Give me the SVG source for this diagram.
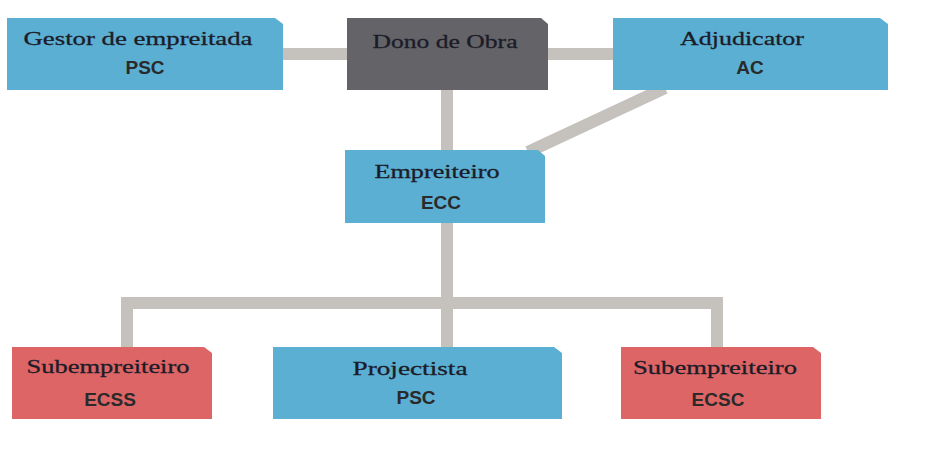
<svg xmlns="http://www.w3.org/2000/svg" width="928" height="465" viewBox="0 0 928 465">
  <style>
    .blue { fill: #5aafd3; }
    .red { fill: #de6566; }
    .dark { fill: #646468; }
    .link { stroke: #c5c1bd; stroke-width: 12; fill: none; }
    .t1 { font-family: "Liberation Serif", "DejaVu Serif", serif; font-size: 19px; fill: #1c1c28; text-anchor: middle; stroke: #1c1c28; stroke-width: 0.3; }
    .t2 { font-family: "Liberation Sans", "DejaVu Sans", sans-serif; font-size: 19px; font-weight: bold; fill: #2a2a2a; text-anchor: middle; }
  </style>
  <rect width="928" height="465" fill="#ffffff"/>

  <!-- connectors -->
  <g id="connectors">
    <line class="link" x1="283" y1="54" x2="613" y2="54"/>
    <line class="link" x1="447" y1="90" x2="447" y2="150"/>
    <line class="link" x1="665" y1="88" x2="528" y2="152"/>
    <line class="link" x1="447" y1="223" x2="447" y2="347"/>
    <polyline class="link" points="127,347 127,303 717,303 717,347"/>
  </g>

  <g id="gestor">
    <path class="blue" d="M7 18 H275 L283 24 V90 H7 Z"/>
    <text class="t1" x="138" y="45" textLength="229" lengthAdjust="spacingAndGlyphs">Gestor de empreitada</text>
    <text class="t2" x="145" y="74">PSC</text>
  </g>

  <g id="dono">
    <path class="dark" d="M347 18 H541 L548 24 V90 H347 Z"/>
    <text class="t1" x="445" y="48" textLength="145" lengthAdjust="spacingAndGlyphs">Dono de Obra</text>
  </g>

  <g id="adjudicator">
    <path class="blue" d="M613 18 H880 L888 24 V90 H613 Z"/>
    <text class="t1" x="742" y="45" textLength="124" lengthAdjust="spacingAndGlyphs">Adjudicator</text>
    <text class="t2" x="750" y="74">AC</text>
  </g>

  <g id="empreiteiro">
    <path class="blue" d="M345 150 H538 L545 156 V223 H345 Z"/>
    <text class="t1" x="437" y="178" textLength="125" lengthAdjust="spacingAndGlyphs">Empreiteiro</text>
    <text class="t2" x="441" y="209">ECC</text>
  </g>

  <g id="ecss">
    <path class="red" d="M12 347 H204 L212 353 V419 H12 Z"/>
    <text class="t1" x="108" y="373" textLength="163" lengthAdjust="spacingAndGlyphs">Subempreiteiro</text>
    <text class="t2" x="110" y="406">ECSS</text>
  </g>

  <g id="projectista">
    <path class="blue" d="M273 347 H554 L562 353 V419 H273 Z"/>
    <text class="t1" x="410" y="375" textLength="115" lengthAdjust="spacingAndGlyphs">Projectista</text>
    <text class="t2" x="416" y="404">PSC</text>
  </g>

  <g id="ecsc">
    <path class="red" d="M621 347 H813 L821 353 V419 H621 Z"/>
    <text class="t1" x="715" y="374" textLength="164" lengthAdjust="spacingAndGlyphs">Subempreiteiro</text>
    <text class="t2" x="718" y="406">ECSC</text>
  </g>
</svg>
